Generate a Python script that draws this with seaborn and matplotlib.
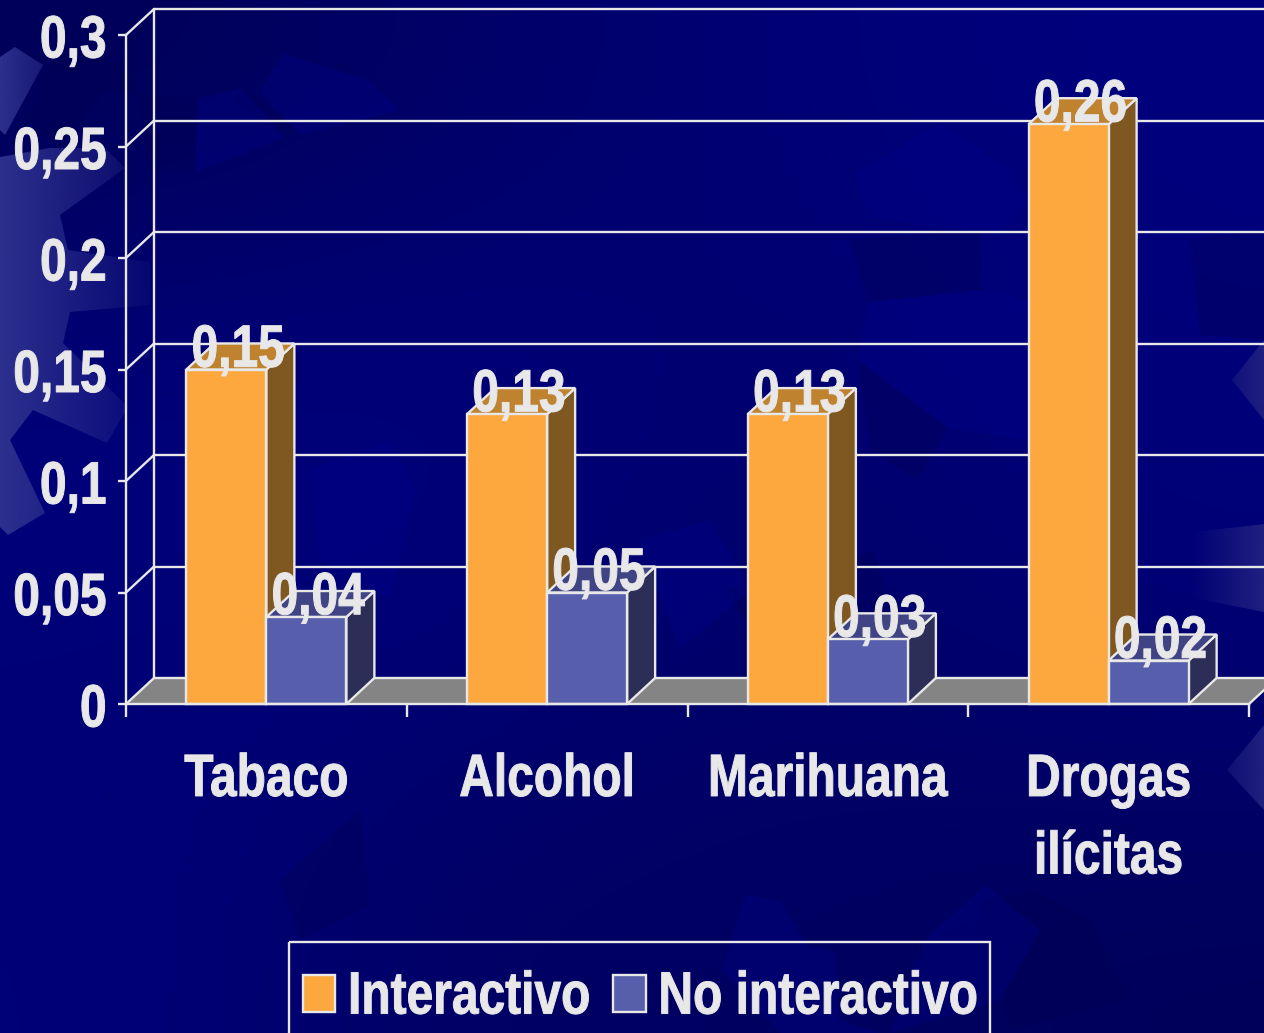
import numpy as np
import pandas as pd
import matplotlib
matplotlib.use("Agg")
import matplotlib.pyplot as plt
import seaborn as sns
from matplotlib.patches import Patch, Polygon, Rectangle
from matplotlib.patheffects import AbstractPathEffect
from matplotlib.transforms import Affine2D, IdentityTransform

categories = ["Tabaco", "Alcohol", "Marihuana", "Drogas\nilícitas"]
series_names = ["Interactivo", "No interactivo"]
interactivo = [0.15, 0.13, 0.13, 0.26]
no_interactivo = [0.039, 0.05, 0.029, 0.0195]
bar_labels = [["0,15", "0,13", "0,13", "0,26"], ["0,04", "0,05", "0,03", "0,02"]]
y_ticks = [0, 0.05, 0.1, 0.15, 0.2, 0.25, 0.3]
y_tick_labels = ["0", "0,05", "0,1", "0,15", "0,2", "0,25", "0,3"]

FRONT = {"Interactivo": "#FDA83F", "No interactivo": "#575EAB"}
SIDE = ["#7F5720", "#2C2E58"]
TOP = ["#BF822F", "#404485"]
LINE = "#E8E8E8"
FLOOR = "#848484"
FS = 34.5
STRETCH = 1.246
W, H = 1264, 1033
DX, DY = 28, 26
PX_PER_CAT = 280.75
PX_PER_UNIT = 2230


class Tall(AbstractPathEffect):
    """Draws text taller and a little heavier, as the narrow lettering of the slide."""

    def __init__(self, k=STRETCH, dy=0, weight=0.7):
        super().__init__()
        self.k, self.dy, self.weight = k, dy, weight

    def draw_path(self, renderer, gc, tpath, affine, rgbFace=None):
        a = Affine2D().scale(1, self.k) + affine + Affine2D().translate(0, self.dy)
        gc0 = renderer.new_gc()
        gc0.copy_properties(gc)
        gc0.set_linewidth(self.weight)
        renderer.draw_path(gc0, tpath, a, rgbFace)
        gc0.restore()


sns.set_theme(style="white")
plt.rcParams["font.family"] = ["Liberation Sans", "DejaVu Sans"]
plt.rcParams["font.weight"] = "bold"

fig = plt.figure(figsize=(W / 100, H / 100), dpi=100)
bg = fig.add_axes([0, 0, 1, 1])

# slide background: soft blue field
blue = np.array([[ 88, 104, 118, 126],
                 [124, 124, 108, 122],
                 [118, 118, 104, 118],
                 [120,  98,  98,  90]]) / 255
field = np.dstack([np.zeros_like(blue), np.zeros_like(blue), blue])
bg.imshow(field, extent=[0, W, H, 0], aspect="auto", interpolation="bicubic", zorder=0)


def faded(points, x_from, x_to, rgb=(46, 48, 142)):
    """A decorative shape whose colour fades horizontally into the field."""
    ramp = np.linspace(0, 1, 128)
    img = np.ones((1, 128, 4))
    img[0, :, :3] = np.array(rgb) / 255
    img[0, :, 3] = 1 - ramp
    im = bg.imshow(img, extent=[x_from, x_to, H, 0], aspect="auto", zorder=1)
    clip = Polygon(points, closed=True, transform=bg.transData, fc="none", ec="none")
    bg.add_patch(clip)
    im.set_clip_path(clip)


faded([(0, 57), (15, 47), (43, 65), (5, 135), (0, 130)], 0, 90)
faded([(0, 157), (50, 148), (105, 148), (125, 168), (60, 215), (68, 250), (150, 262), (150, 305),
       (70, 312), (63, 343), (128, 407), (107, 443), (33, 410), (10, 440), (45, 513), (8, 535), (0, 527)],
      0, 175)
faded([(1264, 524), (1193, 532), (1193, 598), (1264, 612)], 1264, 1190, rgb=(32, 32, 128))
faded([(1264, 340), (1232, 380), (1264, 420)], 1264, 1200, rgb=(32, 32, 128))
faded([(1264, 725), (1227, 770), (1264, 810)], 1264, 1190, rgb=(32, 32, 128))

dark = [
    [(27, 118), (55, 55), (125, 60), (140, 100), (148, 170), (195, 172), (198, 98), (145, 95), (105, 90), (60, 150)],
    [(242, 88), (298, 130), (285, 138), (235, 100)],
    [(980, 230), (982, 290), (868, 302), (850, 240)],
    [(858, 360), (948, 428), (918, 480), (870, 450)],
    [(280, 880), (360, 810), (370, 905), (300, 940)],
    [(725, 590), (875, 550), (890, 620), (770, 660)],
    [(980, 900), (1035, 890), (1090, 920), (1130, 1000), (1010, 1030)],
    [(1190, 240), (1264, 230), (1264, 340), (1200, 335)],
]
for p in dark:
    bg.add_patch(Polygon(p, closed=True, fc="#000050", ec="none", alpha=0.3, zorder=1))
brighter = [
    [(260, 93), (283, 53), (367, 80), (400, 110), (300, 135)],
    [(198, 98), (242, 88), (285, 138), (195, 172)],
    [(855, 173), (940, 123), (1006, 167), (1028, 197), (1000, 235), (867, 217)],
    [(868, 302), (982, 290), (1029, 300), (1029, 440), (948, 428), (858, 360)],
    [(310, 470), (390, 440), (415, 490), (390, 600), (320, 560)],
    [(640, 540), (710, 520), (750, 590), (680, 650)],
    [(722, 970), (745, 895), (780, 900), (806, 943), (835, 953), (839, 1020), (880, 1033), (780, 1033)],
    [(925, 940), (985, 885), (1040, 930), (1000, 1000), (890, 1033)],
]
for p in brighter:
    bg.add_patch(Polygon(p, closed=True, fc="#000090", ec="none", alpha=0.3, zorder=1))

# legend frame reaches past the lower edge of the slide
bg.add_patch(Rectangle((288.5, 942), 701, 120, fc="none", ec=LINE, lw=1.7, zorder=5))
bg.set_xlim(0, W)
bg.set_ylim(H, 0)
bg.axis("off")

ax = fig.add_axes([126 / W, (H - 704) / H, (1249 - 126) / W, (704 - 35) / H])
ax.patch.set_alpha(0)

df = pd.DataFrame({
    "categoria": categories * 2,
    "serie": [series_names[0]] * 4 + [series_names[1]] * 4,
    "valor": interactivo + no_interactivo,
})
sns.barplot(data=df, x="categoria", y="valor", hue="serie", hue_order=series_names,
            palette=FRONT, width=0.57, gap=0, edgecolor=LINE, linewidth=1.7,
            saturation=1, legend=False, ax=ax)
ax.set_xlim(-0.5, 3.5)
ax.set_ylim(0, 0.3)
ax.set_xlabel("")
ax.set_ylabel("")

depth = ax.transData + Affine2D().translate(DX, DY)
lw = 1.7
x0, x1 = ax.get_xlim()
ux = DX / PX_PER_CAT
uy = DY / PX_PER_UNIT

# floor
ax.add_patch(Polygon([(x0, 0), (x1, 0), (x1 + ux, uy), (x0 + ux, uy)],
                     closed=True, fc=FLOOR, ec="none", clip_on=False, zorder=0.5))
# back wall: gridlines, and the depth strokes from the left axis
for v in y_ticks:
    ax.plot([x0, x1], [v, v], transform=depth, color=LINE, lw=lw, clip_on=False, zorder=0.6)
    ax.plot([x0, x0 + ux], [v, v + uy], color=LINE, lw=lw, clip_on=False, zorder=0.6)
ax.plot([x0, x0], [0, 0.3], transform=depth, color=LINE, lw=lw, clip_on=False, zorder=0.6)
ax.plot([x1, x1 + ux], [0, uy], color=LINE, lw=lw, clip_on=False, zorder=0.6)

# extruded faces derived from each seaborn bar
entries = []
for s, cont in enumerate(ax.containers):
    for c, bar in enumerate(cont):
        entries.append((bar.get_x(), s, c, bar))
entries.sort(key=lambda e: e[0])
for i, (xl, s, c, bar) in enumerate(entries):
    xr = xl + bar.get_width()
    h = bar.get_height()
    z = 2 + i
    ax.add_patch(Polygon([(xr, 0), (xr + ux, uy), (xr + ux, h + uy), (xr, h)], closed=True,
                         fc=SIDE[s], ec=LINE, lw=lw, clip_on=False, zorder=z))
    ax.add_patch(Polygon([(xl, h), (xr, h), (xr + ux, h + uy), (xl + ux, h + uy)], closed=True,
                         fc=TOP[s], ec=LINE, lw=lw, clip_on=False, zorder=z))
    bar.set_zorder(z + 0.5)
    bar.set_clip_on(False)
    label = ax.annotate(bar_labels[s][c], (xl + bar.get_width() / 2, h), xytext=(8.5, 2),
                        textcoords="offset points", ha="center", va="baseline", color=LINE,
                        fontsize=FS, fontweight="bold", zorder=50, annotation_clip=False)
    label.set_path_effects([Tall()])

for side in ("top", "right"):
    ax.spines[side].set_visible(False)
for side in ("left", "bottom"):
    ax.spines[side].set_color(LINE)
    ax.spines[side].set_linewidth(lw)
    ax.spines[side].set_zorder(40)

ax.set_yticks(y_ticks, y_tick_labels)
ax.tick_params(axis="y", direction="out", length=6, width=lw, color=LINE, labelcolor=LINE,
               labelsize=FS, pad=8, left=True)
ax.set_xticks(range(4), categories, linespacing=1.93)
ax.tick_params(axis="x", which="major", length=0, labelcolor=LINE, labelsize=FS, pad=41, bottom=False)
ax.set_xticks(np.arange(-0.5, 4, 1), minor=True)
ax.tick_params(axis="x", which="minor", direction="out", length=9, width=lw, color=LINE, bottom=True)
for t in ax.get_xticklabels():
    t.set_fontweight("bold")
    t.set_path_effects([Tall()])
for t in ax.get_yticklabels():
    t.set_fontweight("bold")
    t.set_path_effects([Tall(dy=-5)])

# legend
handles = [Patch(fc=FRONT[n], ec=LINE, lw=lw, label=n) for n in series_names]
leg = ax.legend(handles=handles, ncol=2, loc="center left", frameon=False,
                bbox_to_anchor=(303, H - 998), bbox_transform=IdentityTransform(),
                fontsize=FS, labelcolor=LINE, handlelength=0.67, handleheight=0.81,
                handletextpad=0.27, columnspacing=0.48, borderpad=0, borderaxespad=0)
leg.set_zorder(60)
for t in leg.get_texts():
    t.set_fontweight("bold")
    t.set_path_effects([Tall(dy=-3)])

fig.savefig("out.png", dpi=100)
